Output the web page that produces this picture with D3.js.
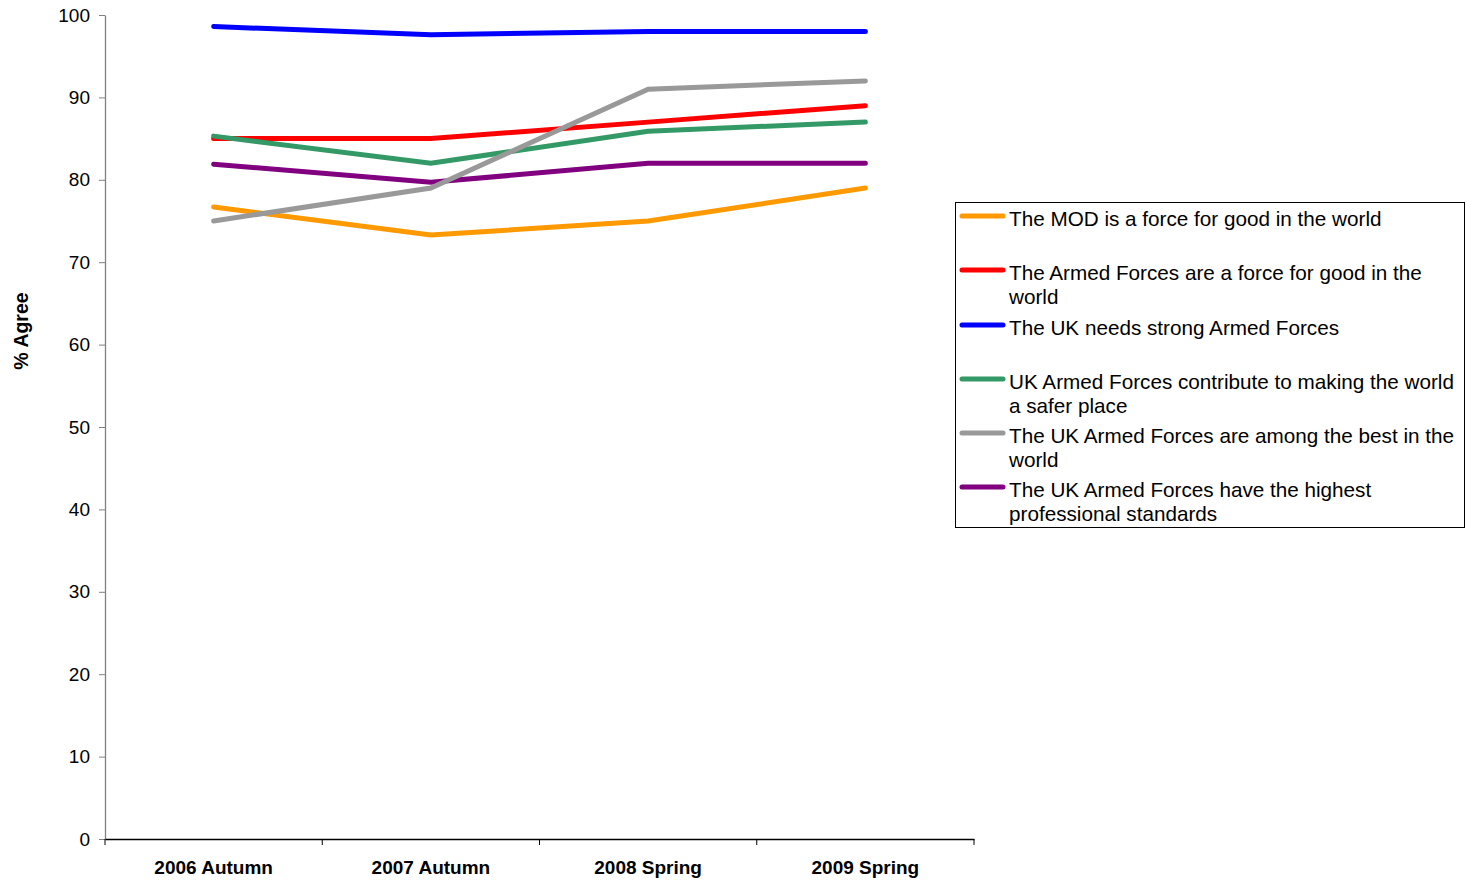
<!DOCTYPE html>
<html><head><meta charset="utf-8">
<script src="https://cdn.jsdelivr.net/npm/d3@7"></script>
<style>body{margin:0;background:#fff}svg{display:block;font-family:"Liberation Sans",Arial,sans-serif}</style>
</head><body>
<svg id="c" width="1466" height="880"></svg>
<script>
const categories = ["2006 Autumn","2007 Autumn","2008 Spring","2009 Spring"];
const seriesNames = [
  "The MOD is a force for good in the world",
  "The Armed Forces are a force for good in the world",
  "The UK needs strong Armed Forces",
  "UK Armed Forces contribute to making the world a safer place",
  "The UK Armed Forces are among the best in the world",
  "The UK Armed Forces have the highest professional standards"
];
const legendLines = [
  ["The MOD is a force for good in the world"],
  ["The Armed Forces are a force for good in the","world"],
  ["The UK needs strong Armed Forces"],
  ["UK Armed Forces contribute to making the world","a safer place"],
  ["The UK Armed Forces are among the best in the","world"],
  ["The UK Armed Forces have the highest","professional standards"]
];
const colors = ["#FF9900","#FF0000","#0000FF","#339966","#999999","#800080"];
const mod = [76.7, 73.3, 75.0, 79.0];
const armedGood = [85.0, 85.0, 87.0, 89.0];
const strong = [98.6, 97.6, 98.0, 98.0];
const safer = [85.3, 82.0, 85.9, 87.0];
const best = [75.0, 79.0, 91.0, 92.0];
const standards = [81.9, 79.7, 82.0, 82.0];
const allValues = [mod, armedGood, strong, safer, best, standards];
const yTicks = [0,10,20,30,40,50,60,70,80,90,100];
const drawOrder = [0,1,2,3,5,4];
const FF = "'Liberation Sans', Arial, sans-serif";

const svg = d3.select("#c");
const L=105, R=974, T=15, B=839;
const x = d3.scaleBand().domain(categories).range([L,R]).padding(0);
const y = d3.scaleLinear().domain([0,100]).range([B,T]);

// y axis
const ya = svg.append("g").attr("transform",`translate(${L},0)`)
  .call(d3.axisLeft(y).tickValues(yTicks).tickSize(6).tickSizeOuter(0).tickPadding(9));
ya.select(".domain").attr("stroke","#808080").attr("stroke-width",1.3);
ya.selectAll(".tick line").attr("stroke","#808080");
ya.selectAll("text").attr("font-size",19).attr("fill","#000").attr("font-family",FF);

// x axis
const xa = svg.append("g").attr("transform",`translate(0,${B})`)
  .call(d3.axisBottom(x).tickSize(0).tickPadding(22));
xa.select(".domain").attr("stroke","#000").attr("stroke-width",1.3);
xa.selectAll("text").attr("font-size",19).attr("font-weight","bold").attr("fill","#000").attr("font-family",FF);
// boundary ticks
const bounds = categories.map(c=>x(c)).concat([R]);
svg.append("g").selectAll("line").data(bounds).join("line")
  .attr("x1",d=>d).attr("x2",d=>d).attr("y1",B).attr("y2",B+6)
  .attr("stroke","#000").attr("stroke-width",1);

// y title
svg.append("text").attr("transform","translate(28,331) rotate(-90)")
  .attr("text-anchor","middle").attr("font-size",19.5).attr("font-weight","bold").attr("font-family",FF).text("% Agree");

// lines
const line = d3.line().x((d,i)=>x(categories[i])+x.bandwidth()/2).y(d=>y(d));
drawOrder.forEach(k=>{
  svg.append("path").datum(allValues[k]).attr("d",line)
    .attr("fill","none").attr("stroke",colors[k]).attr("stroke-width",5)
    .attr("stroke-linecap","round").attr("stroke-linejoin","miter");
});

// legend
const lg = svg.append("g");
lg.append("rect").attr("x",955.5).attr("y",202.5).attr("width",509).attr("height",325)
  .attr("fill","#fff").attr("stroke","#000").attr("stroke-width",1);
const rowY = [216,270,325,379,433,487];
legendLines.forEach((lines,i)=>{
  lg.append("line").attr("x1",962).attr("x2",1003).attr("y1",rowY[i]).attr("y2",rowY[i])
    .attr("stroke",colors[i]).attr("stroke-width",5).attr("stroke-linecap","round");
  const t = lg.append("text").attr("x",1009).attr("y",rowY[i]+10).attr("font-size",20.7).attr("font-family",FF);
  lines.forEach((s,j)=>t.append("tspan").attr("x",1009).attr("dy",j===0?0:23.5).text(s));
});
</script>
</body></html>
